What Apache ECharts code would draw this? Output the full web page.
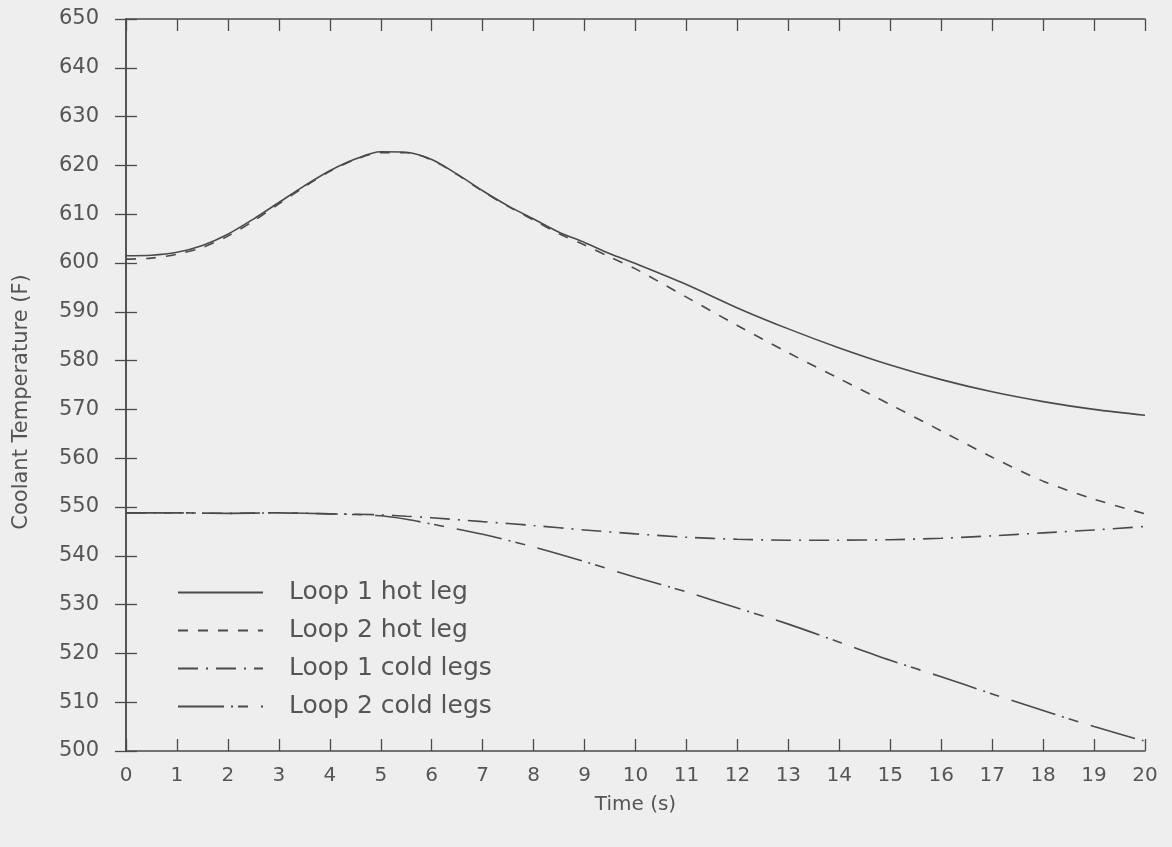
<!DOCTYPE html>
<html>
<head>
<meta charset="utf-8">
<script src="https://cdn.jsdelivr.net/npm/echarts@6/dist/echarts.min.js"></script>
<style>
html,body{margin:0;padding:0;background:#eeeeee;}
#chart{width:1172px;height:847px;}
</style>
</head>
<body>
<div id="chart"></div>
<script>
// Time (s)
var timeHot = [0,0.5,1,1.5,2,2.5,3,3.5,4,4.5,5,5.5,6,6.5,7,7.5,8,8.5,9,9.5,10,11,12,13,14,15,16,17,18,19,20];
var loop1Hot = [601.5,601.6,602.2,603.6,605.9,609.0,612.4,615.8,618.9,621.3,622.8,622.7,621.2,618.2,614.8,611.7,609.0,606.3,604.2,601.9,599.9,595.6,590.8,586.5,582.6,579.1,576.1,573.6,571.6,570.0,568.8];
var loop2Hot = [600.8,601.0,601.8,603.2,605.5,608.6,612.1,615.6,618.8,621.2,622.6,622.6,621.1,618.1,614.7,611.6,608.8,606.0,603.7,601.2,598.8,593.0,587.2,581.6,576.3,571.0,565.6,560.2,555.3,551.6,548.6];
var timeCold = [0,1,2,3,4,5,5.5,6,7,8,9,10,11,12,13,14,15,16,17,18,19,20];
var loop1Cold = [548.8,548.8,548.7,548.8,548.6,548.4,548.1,547.8,547.0,546.2,545.3,544.5,543.8,543.4,543.2,543.2,543.3,543.6,544.1,544.7,545.3,546.0];
var loop2Cold = [548.8,548.8,548.7,548.8,548.6,548.2,547.5,546.5,544.4,541.8,538.8,535.6,532.6,529.3,526.0,522.3,518.6,515.2,511.7,508.3,505.0,502.0];
var seriesNames = ['Loop 1 hot leg','Loop 2 hot leg','Loop 1 cold legs','Loop 2 cold legs'];
var yTicks = {min:500, max:650, step:10};
var xTicks = {min:0, max:20, step:1};

function pairs(xs, ys){ return xs.map(function(x,i){ return [x, ys[i]]; }); }

var ink = '#4a4a4a';
var font = 'DejaVu Sans';
var chart = echarts.init(document.getElementById('chart'), null, {renderer:'canvas'});

function mkLine(name, data, dash){
  return {
    name: name, type: 'line', data: data, symbol: 'none', smooth: 0.3,
    lineStyle: {color: ink, width: 1.6, type: dash},
    itemStyle: {color: ink},
    xAxisIndex: 0, yAxisIndex: 0
  };
}

var option = {
  backgroundColor: '#eeeeee',
  animation: false,
  grid: {left: 126, right: 27, top: 19, bottom: 96, containLabel: false},
  legend: {
    orient: 'vertical', left: 172, top: 574,
    itemWidth: 85, itemHeight: 14, itemGap: 11,
    data: seriesNames,
    itemStyle: {opacity: 0},
    textStyle: {fontFamily: font, fontSize: 25, color: '#555', lineHeight: 27, padding: [0,0,0,21]}
  },
  xAxis: [{
    type: 'value', min: xTicks.min, max: xTicks.max, interval: xTicks.step,
    name: 'Time (s)', nameLocation: 'middle', nameGap: 44,
    nameTextStyle: {fontFamily: font, fontSize: 20, color: '#555'},
    axisLine: {show: true, lineStyle: {color: ink, width: 1.5}},
    axisTick: {show: true, inside: true, length: 12, lineStyle: {color: ink, width: 1.3}},
    axisLabel: {fontFamily: font, fontSize: 20, color: '#555', margin: 15},
    splitLine: {show: false}
  },{
    type: 'value', position: 'top', min: xTicks.min, max: xTicks.max, interval: xTicks.step,
    axisLine: {show: true, lineStyle: {color: ink, width: 1.5}},
    axisTick: {show: true, inside: true, length: 12, lineStyle: {color: ink, width: 1.3}},
    axisLabel: {show: false}, splitLine: {show: false}
  }],
  yAxis: [{
    type: 'value', min: yTicks.min, max: yTicks.max, interval: yTicks.step,
    name: 'Coolant Temperature (F)', nameLocation: 'middle', nameGap: 94, nameRotate: 90,
    nameTextStyle: {fontFamily: font, fontSize: 21, color: '#555', padding: [0,34,0,0]},
    axisLine: {show: true, lineStyle: {color: ink, width: 1.5}},
    axisTick: {show: true, inside: true, length: 11, lineStyle: {color: ink, width: 1.3}},
    axisLabel: {fontFamily: font, fontSize: 21, color: '#555', margin: 27},
    splitLine: {show: false}
  },{
    type: 'value', position: 'right', min: yTicks.min, max: yTicks.max, interval: yTicks.step,
    axisLine: {show: true, lineStyle: {color: ink, width: 1.5}},
    axisTick: {show: true, inside: true, length: 11, lineStyle: {color: ink, width: 1.3}},
    axisLabel: {show: false}, splitLine: {show: false}
  }],
  series: [
    mkLine(seriesNames[0], pairs(timeHot, loop1Hot), 'solid'),
    mkLine(seriesNames[1], pairs(timeHot, loop2Hot), [10,10]),
    mkLine(seriesNames[2], pairs(timeCold, loop1Cold), [20,8,2,8]),
    mkLine(seriesNames[3], pairs(timeCold, loop2Cold), [46,7,2,5,10,13])
  ]
};
chart.setOption(option);
</script>
</body>
</html>
